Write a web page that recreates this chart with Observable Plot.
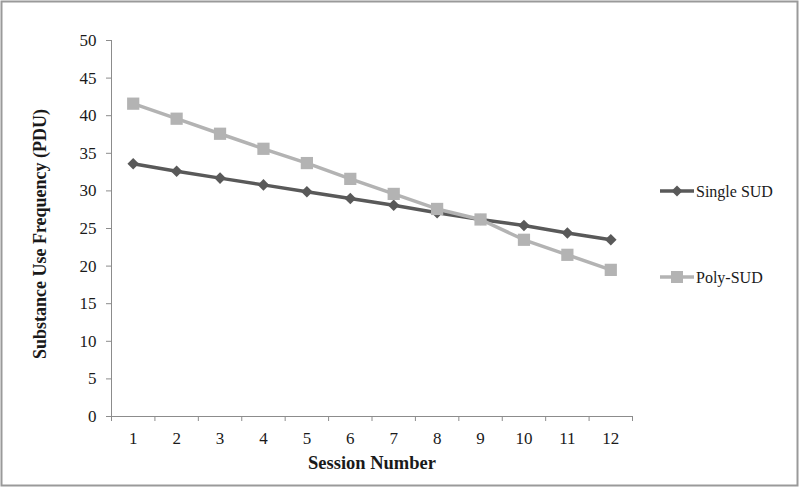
<!DOCTYPE html>
<html>
<head>
<meta charset="utf-8">
<script src="https://cdn.jsdelivr.net/npm/d3@7"></script>
<script src="https://cdn.jsdelivr.net/npm/@observablehq/plot@0.6"></script>
<style>
  body { margin: 0; background: #fff; }
  #chart { width: 800px; height: 488px; }
</style>
</head>
<body>
<div id="chart"></div>
<script>
const sessions = [1, 2, 3, 4, 5, 6, 7, 8, 9, 10, 11, 12];
const singleSUD = [33.6, 32.6, 31.7, 30.8, 29.9, 29.0, 28.1, 27.1, 26.2, 25.4, 24.4, 23.5];
const polySUD = [41.6, 39.6, 37.6, 35.6, 33.7, 31.6, 29.6, 27.6, 26.2, 23.5, 21.5, 19.5];
const seriesNames = ["Single SUD", "Poly-SUD"];
const seriesColors = ["#595959", "#b3b3b3"];
const yTicks = [0, 5, 10, 15, 20, 25, 30, 35, 40, 45, 50];
const xTitle = "Session Number";
const yTitle = "Substance Use Frequency (PDU)";

const singleData = sessions.map((s, i) => ({session: s, value: singleSUD[i]}));
const polyData = sessions.map((s, i) => ({session: s, value: polySUD[i]}));
const boundaries = [sessions[0] - 0.5, ...sessions.map(s => s + 0.5)];

const axisColor = "#8c8c8c";

const chart = Plot.plot({
  width: 800,
  height: 488,
  marginLeft: 111,
  marginRight: 168,
  marginTop: 40,
  marginBottom: 72,
  style: {fontFamily: "'Liberation Serif', serif", fontSize: "17px", background: "white", color: "#1a1a1a"},
  x: {domain: [boundaries[0], boundaries[boundaries.length - 1]]},
  y: {domain: [yTicks[0], yTicks[yTicks.length - 1]]},
  marks: [
    Plot.axisY({ticks: yTicks, tickSize: 5, tickPadding: 10, stroke: axisColor, label: null}),
    Plot.axisX({ticks: boundaries, tickSize: 5, tickFormat: () => "", stroke: axisColor, label: null}),
    Plot.axisX({ticks: sessions, tickSize: 0, tickPadding: 15, label: null}),
    Plot.ruleY([yTicks[0]], {stroke: axisColor, strokeWidth: 1}),
    Plot.ruleX([boundaries[0]], {stroke: axisColor, strokeWidth: 1}),
    Plot.line(singleData, {x: "session", y: "value", stroke: seriesColors[0], strokeWidth: 3.5}),
    Plot.dot(singleData, {x: "session", y: "value", symbol: "square", rotate: 45, r: 4.6, fill: seriesColors[0]}),
    Plot.line(polyData, {x: "session", y: "value", stroke: seriesColors[1], strokeWidth: 3.5}),
    Plot.dot(polyData, {x: "session", y: "value", symbol: "square", r: 6.9, fill: seriesColors[1]})
  ]
});

document.getElementById("chart").appendChild(chart);

const svg = d3.select(chart);
// outer border
svg.append("rect")
  .attr("x", 1.5).attr("y", 1.5).attr("width", 796).attr("height", 484)
  .attr("fill", "none").attr("stroke", "#9a9a9a").attr("stroke-width", 2);

// axis titles
svg.append("text")
  .attr("x", 372).attr("y", 469)
  .attr("text-anchor", "middle")
  .attr("font-weight", "bold")
  .attr("font-size", 18.5)
  .attr("fill", "#1a1a1a")
  .text(xTitle);
svg.append("text")
  .attr("transform", "translate(46,234) rotate(-90)")
  .attr("text-anchor", "middle")
  .attr("font-weight", "bold")
  .attr("font-size", 18)
  .attr("fill", "#1a1a1a")
  .text(yTitle);

// legend
const legendY = [191, 277];
const legend = svg.append("g");
seriesNames.forEach((name, i) => {
  const g = legend.append("g").attr("transform", `translate(0,${legendY[i]})`);
  g.append("line").attr("x1", 660).attr("x2", 694).attr("y1", 0).attr("y2", 0)
    .attr("stroke", seriesColors[i]).attr("stroke-width", 3.5);
  if (i === 0) {
    g.append("path").attr("d", "M677,-5.5L682.5,0L677,5.5L671.5,0Z").attr("fill", seriesColors[i]);
  } else {
    g.append("rect").attr("x", 671).attr("y", -6).attr("width", 12).attr("height", 12).attr("fill", seriesColors[i]);
  }
  g.append("text").attr("x", 696).attr("y", 0).attr("dy", "0.35em")
    .attr("text-anchor", "start")
    .attr("font-size", 16).attr("fill", "#1a1a1a").text(name);
});
</script>
</body>
</html>
